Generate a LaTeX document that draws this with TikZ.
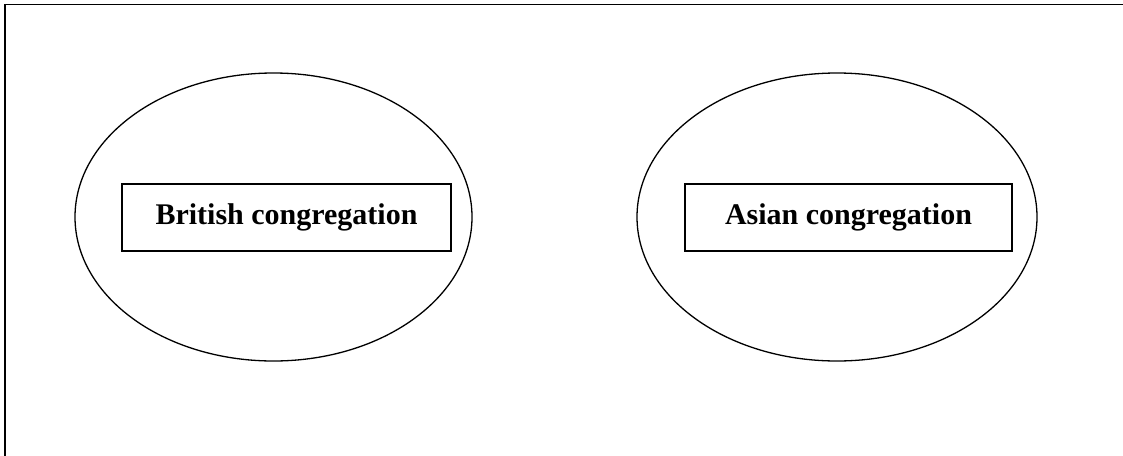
\documentclass[tikz,border=0pt]{standalone}
\usepackage{fontspec}
\setmainfont{Liberation Serif}
\usetikzlibrary{shapes.geometric}
\tikzset{
  group/.style={draw, ellipse, line width=1.3pt, inner sep=0pt, minimum width=#1, minimum height=288pt},
  label box/.style={draw, rectangle, line width=1.3pt, inner sep=0pt, minimum height=67pt,
    font=\fontsize{30}{36}\selectfont\bfseries},
  frame/.style={line width=1.5pt}
}
\begin{document}
\begin{tikzpicture}[x=1pt,y=-1pt]
\useasboundingbox (0,0) rectangle (1123,455);
\coordinate (fbot) at (5,460);
\coordinate (fcorner) at (5,4.5);
\coordinate (fright) at (1125,4.5);
\draw[frame] (fbot) -- (fcorner) -- (fright);
\node[group=397pt] (e1) at (273.5,217) {};
\node[group=400pt] (e2) at (837,217) {};
\node[label box, minimum width=329pt] (b1) at (286.5,217.5) {British congregation};
\node[label box, minimum width=327pt] (b2) at (848.5,217.5) {Asian congregation};
\end{tikzpicture}
\end{document}
